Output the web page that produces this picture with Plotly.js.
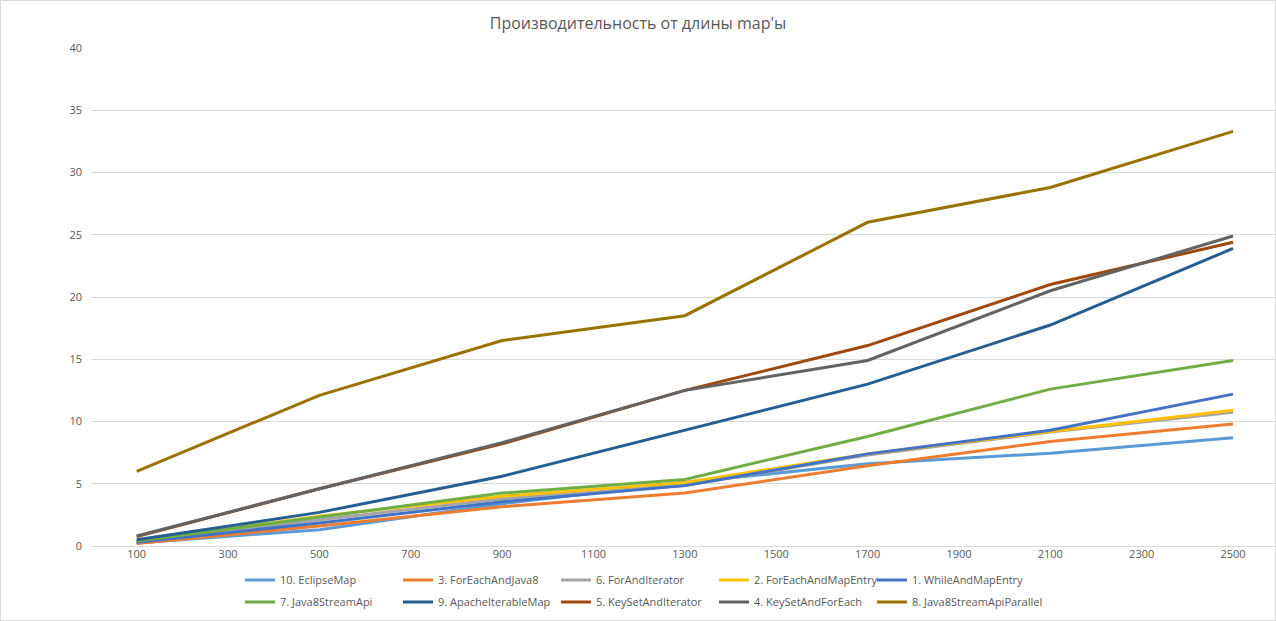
<!DOCTYPE html>
<html>
<head>
<meta charset="utf-8">
<script src="https://cdn.plot.ly/plotly-3.0.1.min.js"></script>
<style>
html,body{margin:0;padding:0;background:#fff;}
#wrap{position:relative;width:1276px;height:621px;}
#border{position:absolute;left:0;top:0;width:1274px;height:619px;border:1px solid #d9d9d9;pointer-events:none;}
</style>
</head>
<body>
<div id="wrap"><div id="plot"></div><div id="border"></div></div>
<script>
const xValues = [100, 500, 900, 1300, 1700, 2100, 2500];
const tickValues = [100, 300, 500, 700, 900, 1100, 1300, 1500, 1700, 1900, 2100, 2300, 2500];

const seriesNames = [
  "10. EclipseMap", "3. ForEachAndJava8", "6. ForAndIterator", "2. ForEachAndMapEntry", "1. WhileAndMapEntry",
  "7. Java8StreamApi", "9. ApacheIterableMap", "5. KeySetAndIterator", "4. KeySetAndForEach", "8. Java8StreamApiParallel"
];
const eclipseMap = [0.25, 1.3, 3.4, 5.1, 6.6, 7.45, 8.7];
const forEachAndJava8 = [0.2, 1.6, 3.15, 4.25, 6.45, 8.4, 9.8];
const forAndIterator = [0.3, 2.1, 3.8, 4.85, 7.3, 9.15, 10.75];
const forEachAndMapEntry = [0.35, 2.4, 4.0, 5.1, 7.4, 9.2, 10.9];
const whileAndMapEntry = [0.3, 1.85, 3.55, 4.85, 7.4, 9.3, 12.2];
const java8StreamApi = [0.4, 2.35, 4.25, 5.35, 8.8, 12.6, 14.9];
const apacheIterableMap = [0.5, 2.7, 5.6, 9.3, 13.0, 17.75, 23.9];
const keySetAndIterator = [0.75, 4.6, 8.2, 12.5, 16.1, 21.0, 24.4];
const keySetAndForEach = [0.8, 4.6, 8.3, 12.5, 14.9, 20.5, 24.9];
const java8StreamApiParallel = [6.0, 12.1, 16.5, 18.5, 26.0, 28.8, 33.3];

const seriesValues = [eclipseMap, forEachAndJava8, forAndIterator, forEachAndMapEntry, whileAndMapEntry,
  java8StreamApi, apacheIterableMap, keySetAndIterator, keySetAndForEach, java8StreamApiParallel];
const colors = ["#5B9BD5", "#ED7D31", "#A5A5A5", "#FFC000", "#4472C4",
  "#70AD47", "#255E91", "#9E480E", "#636363", "#997300"];

const legendId = i => (i === 0 ? "legend" : "legend" + (i + 1));

const traces = seriesNames.map((name, i) => ({
  type: "scatter",
  mode: "lines",
  name: name,
  x: xValues,
  y: seriesValues[i],
  line: {color: colors[i], width: 3},
  legend: legendId(i),
  hoverinfo: "x+y+name"
}));

const fontFam = "'Open Sans', 'Liberation Sans', sans-serif";

const layout = {
  width: 1276, height: 621,
  margin: {l: 91, r: 0, t: 48, b: 75},
  paper_bgcolor: "#fff", plot_bgcolor: "#fff",
  title: {
    text: "Производительность от длины map'ы",
    font: {family: fontFam, size: 16, color: "#595959"},
    x: 0.5, xref: "container", y: 1 - 23 / 621, yref: "container", yanchor: "middle"
  },
  xaxis: {
    range: [0, 2594],
    tickmode: "array", tickvals: tickValues, ticktext: tickValues.map(String),
    showgrid: false, zeroline: false, showline: false, ticks: "",
    tickfont: {family: fontFam, size: 11, color: "#595959"}
  },
  yaxis: {
    range: [0, 40], dtick: 5,
    showgrid: true, gridcolor: "#D9D9D9", gridwidth: 1,
    zeroline: true, zerolinecolor: "#D9D9D9", zerolinewidth: 1,
    showline: false, ticks: "",
    ticklabelstandoff: 8,
    tickfont: {family: fontFam, size: 11, color: "#595959"}
  },
  showlegend: true
};

seriesNames.forEach((name, i) => {
  const col = i % 5, row = Math.floor(i / 5);
  layout[legendId(i)] = {
    orientation: "h",
    xref: "container", yref: "container",
    x: (240 + 158 * col) / 1276, xanchor: "left",
    y: 1 - (row === 0 ? 580 : 602) / 621, yanchor: "middle",
    font: {family: fontFam, size: 11, color: "#595959"},
    bgcolor: "rgba(0,0,0,0)",
    itemwidth: 30
  };
});

Plotly.newPlot("plot", traces, layout, {displayModeBar: false, responsive: false});
</script>
</body>
</html>
